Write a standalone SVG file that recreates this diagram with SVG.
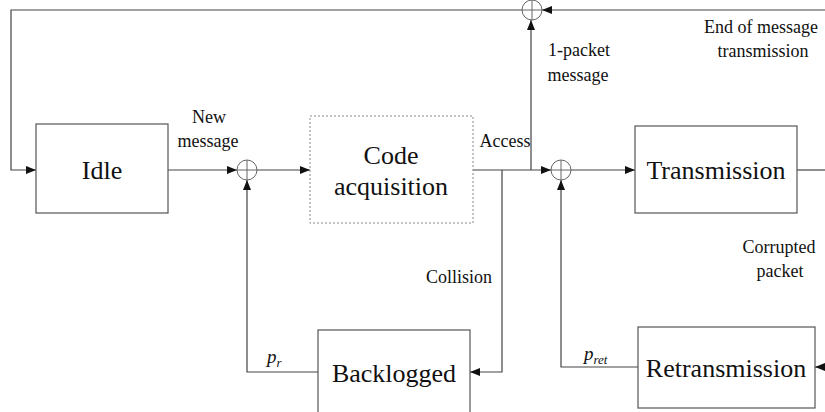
<svg xmlns="http://www.w3.org/2000/svg" width="825" height="412" viewBox="0 0 825 412">
<defs>
<marker id="arr" viewBox="0 0 10 8" refX="10" refY="4" markerWidth="10" markerHeight="8" markerUnits="userSpaceOnUse" orient="auto">
<path d="M0,0 L10,4 L0,8 Z" fill="#111"/>
</marker>
</defs>
<style>
.box{fill:#fff;stroke:#555;stroke-width:1.2}
.dash{fill:#fff;stroke:#888;stroke-width:1;stroke-dasharray:2 2}
.ln{fill:none;stroke:#444;stroke-width:1.2}
.j{fill:none;stroke:#666;stroke-width:1}
.big{font-family:"Liberation Serif","Times New Roman",serif;font-size:26px;fill:#111;text-anchor:middle}
.lbl{font-family:"Liberation Serif","Times New Roman",serif;font-size:18px;fill:#111;text-anchor:middle}
.it{font-family:"Liberation Serif","Times New Roman",serif;font-style:italic;fill:#111}
</style>
<rect width="825" height="412" fill="#fff"/>
<g id="connectors">
<path class="ln" d="M522,10 H11 V170 H36" marker-end="url(#arr)"/>
<path class="ln" d="M825,10 H542" marker-end="url(#arr)"/>
<path class="ln" d="M168,170 H237" marker-end="url(#arr)"/>
<path class="ln" d="M257,170 H310" marker-end="url(#arr)"/>
<path class="ln" d="M473,170 H551" marker-end="url(#arr)"/>
<path class="ln" d="M531,170 V20" marker-end="url(#arr)"/>
<path class="ln" d="M502,170 V372 H470" marker-end="url(#arr)"/>
<path class="ln" d="M318,372 H247 V180" marker-end="url(#arr)"/>
<path class="ln" d="M571,170 H635" marker-end="url(#arr)"/>
<path class="ln" d="M638,367 H561 V180" marker-end="url(#arr)"/>
<path class="ln" d="M797,170 H825"/>
<path class="ln" d="M825,367 H815" marker-end="url(#arr)"/>
</g>
<g id="junction-top">
<circle class="j" cx="532" cy="10" r="10"/>
<path class="j" d="M522,10 H542 M532,0 V20"/>
</g>
<g id="junction-1">
<circle class="j" cx="247" cy="170" r="10"/>
<path class="j" d="M237,170 H257 M247,160 V180"/>
</g>
<g id="junction-2">
<circle class="j" cx="561" cy="170" r="10"/>
<path class="j" d="M551,170 H571 M561,160 V180"/>
</g>
<g id="idle">
<rect class="box" x="36" y="124" width="132" height="89"/>
<text class="big" x="102" y="179">Idle</text>
</g>
<g id="code-acquisition">
<rect class="dash" x="310" y="116" width="163" height="107"/>
<text class="big" x="391" y="164">Code</text>
<text class="big" x="391" y="195">acquisition</text>
</g>
<g id="transmission">
<rect class="box" x="635" y="126" width="162" height="87"/>
<text class="big" x="716" y="179">Transmission</text>
</g>
<g id="backlogged">
<rect class="box" x="318" y="330" width="152" height="90"/>
<text class="big" x="394" y="382">Backlogged</text>
</g>
<g id="retransmission">
<rect class="box" x="638" y="327" width="177" height="81"/>
<text class="big" x="726" y="377">Retransmission</text>
</g>
<g id="labels">
<text class="lbl" x="209" y="123">New</text>
<text class="lbl" x="208" y="147">message</text>
<text class="lbl" x="505" y="147">Access</text>
<text class="lbl" x="579" y="56">1-packet</text>
<text class="lbl" x="578" y="81">message</text>
<text class="lbl" x="761" y="33">End of message</text>
<text class="lbl" x="763" y="57">transmission</text>
<text class="lbl" x="779" y="253">Corrupted</text>
<text class="lbl" x="780" y="277">packet</text>
<text class="lbl" x="459" y="283">Collision</text>
<text class="it" x="267" y="363" font-size="19">p<tspan font-size="13" dy="4">r</tspan></text>
<text class="it" x="584" y="360" font-size="19">p<tspan font-size="13" dy="4">ret</tspan></text>
</g>
</svg>
